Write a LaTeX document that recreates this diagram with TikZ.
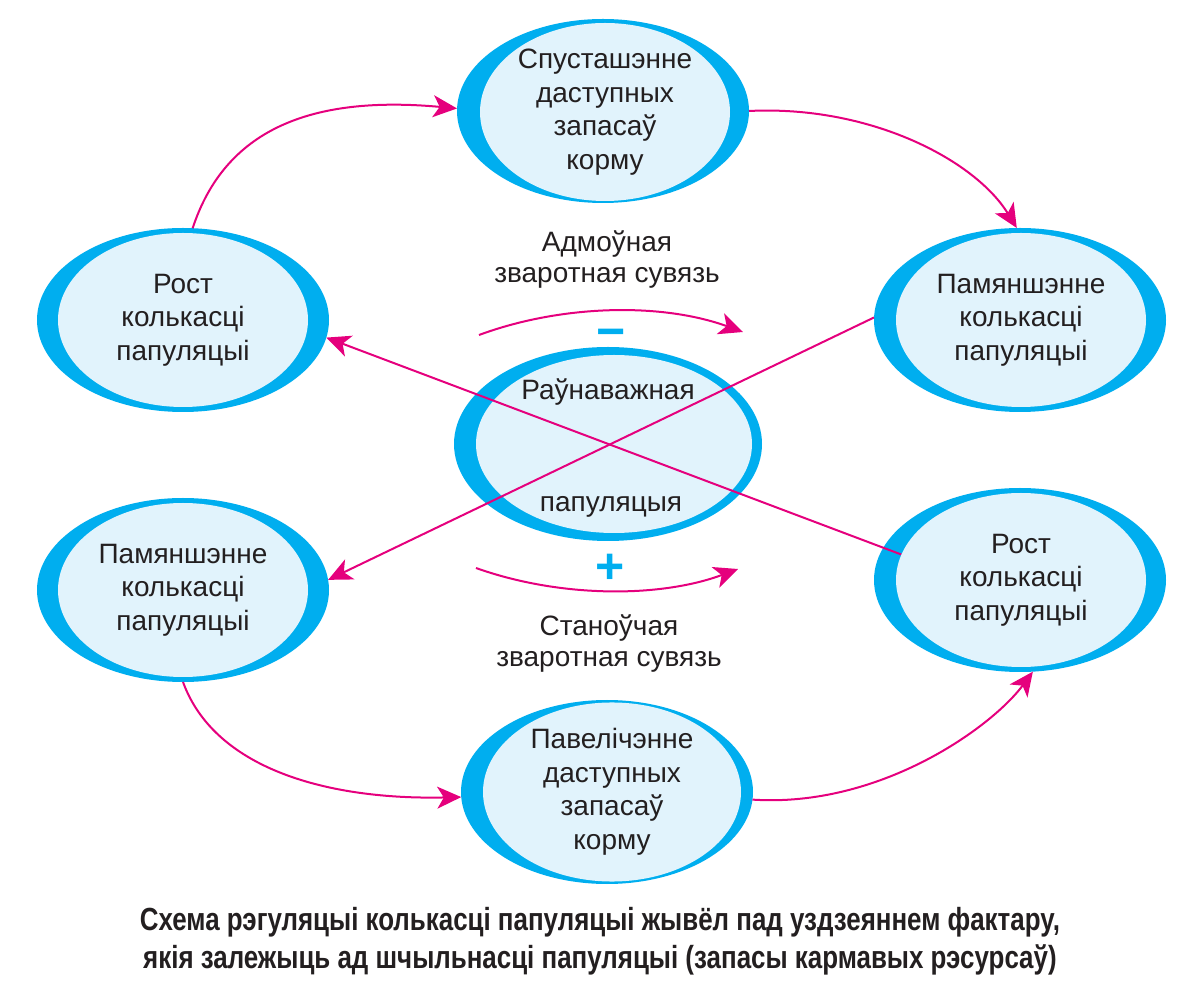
\documentclass[tikz,border=0pt]{standalone}
\usepackage{fontspec}
\setmainfont{Liberation Sans}
\newfontfamily\capfont[FakeStretch=0.81]{Liberation Sans}
\usetikzlibrary{shapes.geometric,arrows.meta}
\definecolor{cblue}{HTML}{00AEEF}
\definecolor{clight}{HTML}{E1F3FC}
\definecolor{cmag}{HTML}{E5007D}
\definecolor{ctext}{HTML}{231F20}
\pgfdeclarelayer{lzero}
\pgfdeclarelayer{lone}
\pgfsetlayers{lzero,lone,main}
\begin{document}
\begin{tikzpicture}[x=0.5pt,y=-0.5pt,
  outerell/.style={ellipse, fill=cblue, inner sep=0pt, outer sep=0pt, minimum width=146pt, minimum height=92pt},
  innerell/.style={ellipse, fill=clight, inner sep=0pt, outer sep=0pt, minimum width=125pt, minimum height=87pt,
     align=center, text=ctext, font=\fontsize{14pt}{16.75pt}\selectfont},
  lbl/.style={align=center, text=ctext, font=\fontsize{14pt}{15.5pt}\selectfont, inner sep=0pt},
  sign/.style={text=cblue, inner sep=0pt, font=\bfseries\fontsize{25pt}{25pt}\selectfont},
  conn/.style={draw=cmag, line width=1pt, -{Stealth[length=12pt,width=11pt,inset=3.3pt]}},
  capt/.style={align=center, text=ctext, inner sep=0pt, font=\capfont\bfseries\fontsize{16pt}{19pt}\selectfont}
]
\useasboundingbox (0,0) rectangle (1200,983);

\begin{pgfonlayer}{lzero}
  \node[outerell] (top) at (603,111) {};
  \node[outerell] (ul) at (183,320) {};
  \node[outerell] (ur) at (1020,320) {};
  \node[outerell] (ll) at (183,590) {};
  \node[outerell] (lr) at (1020,580) {};
  \node[outerell] (bot) at (607,792) {};
  \node[outerell, minimum width=154pt, minimum height=97pt] (cen) at (608,444) {};
  \node[ellipse, fill=clight, inner sep=0pt, minimum width=138pt, minimum height=89pt] (cenin) at (614,444) {};
  \node[lbl, anchor=base] (cen1) at (608,400) {Раўнаважная};
  \node[lbl, anchor=base] (cen2) at (611,512) {папуляцыя};
\end{pgfonlayer}

\node[innerell] (topin) at (605,112) {Спусташэнне\\даступных\\запасаў\\корму};
\node[innerell] (ulin) at (183,320) {Рост\\колькасці\\папуляцыі};
\node[innerell] (urin) at (1021,320) {Памяншэнне\\колькасці\\папуляцыі};
\node[innerell] (llin) at (183,590) {Памяншэнне\\колькасці\\папуляцыі};
\node[innerell] (lrin) at (1021,580) {Рост\\колькасці\\папуляцыі};
\node[innerell, minimum width=129pt] (botin) at (612,792) {Павелічэнне\\даступных\\запасаў\\корму};

\node[lbl, anchor=base] (neg) at (607,283) {Адмоўная\\зваротная сувязь};
\node[lbl, anchor=base] (pos) at (609,667) {Станоўчая\\зваротная сувязь};
\node[sign] (minus) at (611,339) {−};
\node[sign] (plus) at (610,569) {+};

\coordinate (n1) at (479,335);
\coordinate (n2) at (743,332);
\coordinate (p1) at (476,568);
\coordinate (p2) at (738,569);

\begin{pgfonlayer}{lone}
  \draw[conn] (lrin.168) -- (ul.-7);
  \draw[conn] (ur.179) -- (ll.4);
\end{pgfonlayer}

\draw[conn] (ul.84) .. controls (225,130) and (310,95) .. (top.179);
\draw[conn] (top.east) .. controls (870,105) and (975,160) .. (ur.92);
\draw[conn] (ll.south) .. controls (215,770) and (330,800) .. (bot.182);
\draw[conn] (bot.-3) .. controls (880,808) and (992,727) .. (lr.-82);
\draw[conn] (n1) .. controls (560,305) and (660,302) .. (n2);
\draw[conn] (p1) .. controls (560,598) and (660,598) .. (p2);

\node[capt] (cap) at (600,941) {Схема рэгуляцыі колькасці папуляцыі жывёл пад уздзеяннем фактару,\\ якія залежыць ад шчыльнасці папуляцыі (запасы кармавых рэсурсаў)};
\end{tikzpicture}
\end{document}
